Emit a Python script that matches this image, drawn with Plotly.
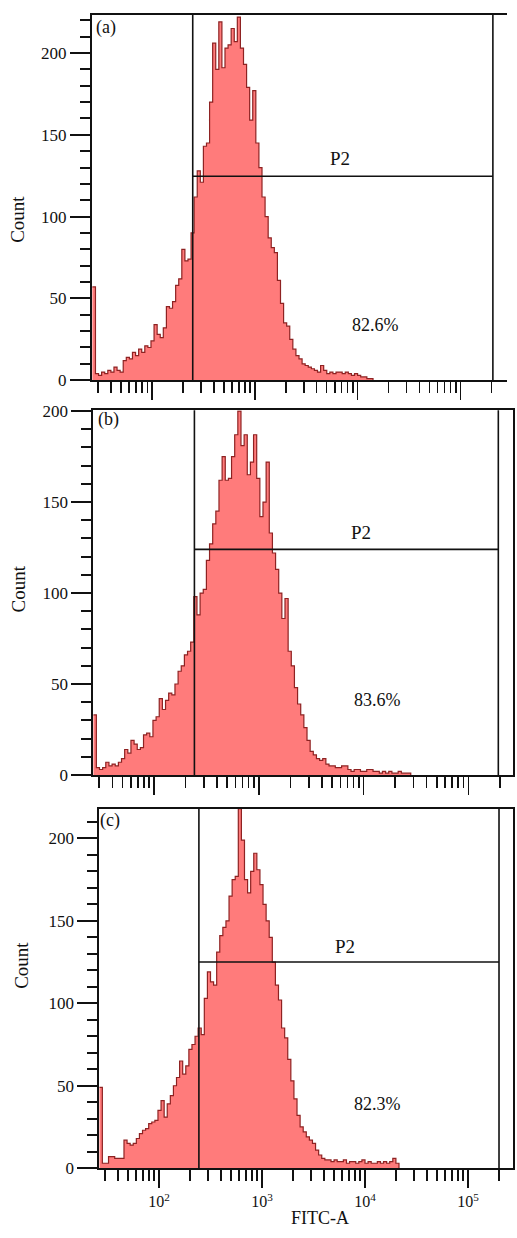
import plotly.graph_objects as go

# ---------------- data ----------------
# histogram binning on the FITC-A log scale
BIN_START_LOG = 1.42
BIN_STEP_LOG = 0.03

counts_a = [57, 4, 3, 5, 4, 6, 5, 8, 6, 5, 12, 14, 13, 17, 15, 19, 17, 21, 20, 24,
            34, 28, 26, 32, 45, 44, 48, 58, 62, 80, 73, 74, 90, 112, 128, 121, 143, 145, 170, 206,
            190, 219, 191, 203, 205, 215, 207, 222, 203, 193, 179, 159, 177, 145, 130, 112, 100, 87, 81, 78,
            61, 47, 35, 33, 25, 19, 15, 13, 10, 9, 8, 7, 6, 5, 9, 6, 4, 5, 4, 5,
            5, 4, 5, 4, 3, 4, 3, 2, 2, 1, 1, 0]

counts_b = [33, 4, 3, 4, 7, 5, 6, 5, 7, 9, 14, 12, 19, 17, 14, 15, 22, 23, 21, 30,
            32, 42, 36, 41, 45, 44, 50, 57, 60, 66, 68, 73, 98, 88, 100, 102, 118, 127, 138, 145,
            162, 175, 162, 163, 175, 187, 200, 181, 187, 165, 172, 187, 163, 142, 150, 172, 133, 122, 113, 100,
            86, 97, 68, 60, 48, 39, 33, 26, 19, 13, 11, 9, 8, 9, 6, 5, 5, 4, 4, 5,
            5, 3, 2, 3, 3, 2, 2, 3, 3, 2, 2, 1, 2, 1, 2, 1, 1, 2, 1, 1, 1, 0]

counts_c = [49, 3, 3, 7, 7, 6, 6, 6, 17, 15, 14, 15, 18, 21, 23, 24, 27, 28, 29, 35,
            41, 31, 39, 44, 50, 55, 65, 57, 62, 72, 75, 80, 85, 81, 103, 119, 113, 111, 131, 141,
            146, 150, 165, 175, 177, 218, 199, 175, 167, 180, 191, 181, 172, 160, 150, 140, 125, 111, 102, 85,
            79, 66, 53, 42, 32, 25, 22, 19, 17, 15, 11, 8, 6, 5, 5, 4, 5, 4, 4, 5,
            3, 4, 4, 3, 4, 5, 3, 4, 3, 3, 4, 3, 4, 3, 4, 6, 3, 0]

panel_labels = ["(a)", "(b)", "(c)"]
gate_name = "P2"
gate_percent = ["82.6%", "83.6%", "82.3%"]
gate_left = [249, 243, 244]            # FITC-A value of left gate edge
gate_right = [207000, 193000, 200000]  # FITC-A value of right gate edge
gate_level = [124.7, 124, 125]         # count level of the gate bar

x_major_vals = [100, 1000, 10000, 100000]
x_major_text = ["10<sup>2</sup>", "10<sup>3</sup>", "10<sup>4</sup>", "10<sup>5</sup>"]
x_minor_vals = [m * d for d in (10, 100, 1000, 10000) for m in range(2, 10) if m * d >= 30] + [200000]

x_title = "FITC-A"
y_title = "Count"

# ---------------- layout geometry (pixels in a 517 x 1238 page) ----------------
W, H = 517, 1238
panels = [
    dict(counts=counts_a, xdom=(92, 507), xr=(1.4163, 5.4533), ydom=(7, 377.7), ytop=223.3, ymirror=False,
         lab=(106, 20), p2=(340, 153), pct=(375, 322), cnt=(18, 215)),
    dict(counts=counts_b, xdom=(93.3, 513), xr=(1.4208, 5.4256), ydom=(408.3, 778.3), ytop=200.4, ymirror=True,
         lab=(108, 418), p2=(361, 532), pct=(377, 702), cnt=(18, 590)),
    dict(counts=counts_c, xdom=(99.3, 513), xr=(1.4204, 5.4369), ydom=(812.7, 1177.3), ytop=217.9, ymirror=True,
         lab=(110, 824), p2=(345, 952), pct=(377, 1112), cnt=(22, 972)),
]

def px(x):
    return x / W

def py(y):
    return 1 - y / H

FONT = "Liberation Serif, Times New Roman, Times, serif"
FILL = "#ff7b7b"
EDGE = "#8e2222"
INK = "#111111"

fig = go.Figure()
annotations = []
layout_axes = {}

for k, p in enumerate(panels):
    sfx = "" if k == 0 else str(k + 1)
    xa, ya = "x" + sfx, "y" + sfx
    counts = p["counts"]
    edges = [10 ** (BIN_START_LOG + BIN_STEP_LOG * i) for i in range(len(counts))]

    fig.add_trace(go.Scatter(
        x=edges, y=counts, mode="lines",
        line=dict(shape="hv", color=EDGE, width=1.2),
        fill="tozeroy", fillcolor=FILL,
        xaxis=xa, yaxis=ya, hoverinfo="skip", showlegend=False))

    gl, gr, gy = gate_left[k], gate_right[k], gate_level[k]
    fig.add_trace(go.Scatter(
        x=[gl, gl, None, gl, gr, None, gr, gr],
        y=[0, 1000, None, gy, gy, None, 0, 1000],
        mode="lines", line=dict(color=INK, width=1.6),
        xaxis=xa, yaxis=ya, hoverinfo="skip", showlegend=False))

    layout_axes["xaxis" + sfx] = dict(
        type="log", range=list(p["xr"]),
        domain=[px(p["xdom"][0]), px(p["xdom"][1])], anchor=ya,
        showline=True, linecolor=INK, linewidth=2, mirror=True,
        ticks="outside", ticklen=18, tickwidth=1.6, tickcolor=INK,
        tickmode="array", tickvals=x_major_vals, ticktext=x_major_text,
        showticklabels=(k == 2),
        tickfont=dict(family=FONT, size=16, color=INK),
        minor=dict(tickmode="array", tickvals=x_minor_vals, ticks="outside",
                   ticklen=11, tickwidth=1.6, tickcolor=INK, showgrid=False),
        showgrid=False, zeroline=False, fixedrange=True)

    layout_axes["yaxis" + sfx] = dict(
        range=[0, p["ytop"]],
        domain=[py(p["ydom"][1]), py(p["ydom"][0])], anchor=xa,
        showline=True, linecolor=INK, linewidth=2, mirror=p["ymirror"],
        ticks="outside", ticklen=20, tickwidth=2, tickcolor=INK,
        tick0=0, dtick=50,
        tickfont=dict(family=FONT, size=17, color=INK),
        minor=dict(dtick=10, tick0=0, ticks="outside", ticklen=10, tickwidth=2,
                   tickcolor=INK, showgrid=False),
        showgrid=False, zeroline=False, fixedrange=True)

    def ann(text, pos, size, angle=0):
        annotations.append(dict(
            text=text, x=px(pos[0]), y=py(pos[1]), xref="paper", yref="paper",
            xanchor="center", yanchor="middle", showarrow=False, textangle=angle,
            font=dict(family=FONT, size=size, color=INK)))

    ann(panel_labels[k], p["lab"], 18)
    ann(gate_name, p["p2"], 19)
    ann(gate_percent[k], p["pct"], 18)
    ann(y_title, p["cnt"], 19, angle=-90)

annotations.append(dict(
    text=x_title, x=px(320), y=py(1228), xref="paper", yref="paper",
    xanchor="center", yanchor="middle", showarrow=False,
    font=dict(family=FONT, size=18, color=INK)))

fig.update_layout(
    width=W, height=H, autosize=False,
    margin=dict(l=0, r=0, t=0, b=0),
    paper_bgcolor="white", plot_bgcolor="white",
    showlegend=False, annotations=annotations,
    **layout_axes)

fig.write_html("out.html", config=dict(displayModeBar=False, staticPlot=True),
               post_script="document.body.style.margin='0';document.body.style.overflow='hidden';")
